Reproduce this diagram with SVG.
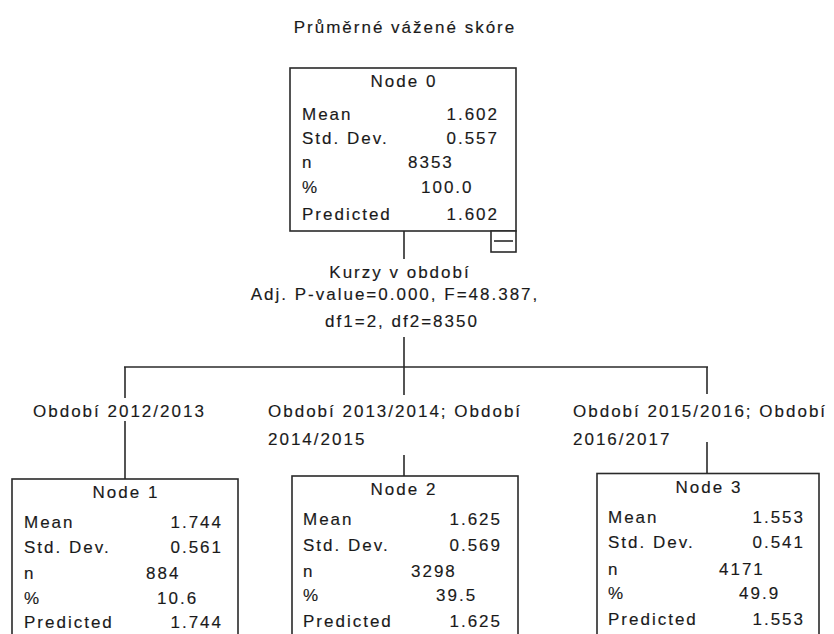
<svg xmlns="http://www.w3.org/2000/svg" width="834" height="634" viewBox="0 0 834 634">
<style>
text{font-family:"Liberation Sans",Arial,sans-serif;font-size:17px;fill:#1a1a1a;stroke:#1a1a1a;stroke-width:0.15;letter-spacing:2px}
.c{text-anchor:middle}
.r{text-anchor:end}
.box{fill:#fff;stroke:#2a2a2a;stroke-width:1.6}
.ln{stroke:#2a2a2a;stroke-width:1.6;fill:none}
</style>
<rect width="834" height="634" fill="#fff"/>
<text x="405" y="33" class="c">Průměrné vážené skóre</text>
<g id="connectors">
<line class="ln" x1="404" y1="231" x2="404" y2="259"/>
<line class="ln" x1="404" y1="337" x2="404" y2="367"/>
<line class="ln" x1="124" y1="367" x2="708" y2="367"/>
<line class="ln" x1="125" y1="367" x2="125" y2="398"/>
<line class="ln" x1="125" y1="421" x2="125" y2="479"/>
<line class="ln" x1="404" y1="367" x2="404" y2="395"/>
<line class="ln" x1="404" y1="455" x2="404" y2="476"/>
<line class="ln" x1="707" y1="367" x2="707" y2="394"/>
<line class="ln" x1="707" y1="442" x2="707" y2="473"/>
</g>
<g id="split-label">
<text x="400" y="278" class="c">Kurzy v období</text>
<text x="395" y="300" class="c">Adj. P-value=0.000, F=48.387,</text>
<text x="402" y="327" class="c">df1=2, df2=8350</text>
</g>
<g id="branch-labels">
<text x="33" y="417">Období 2012/2013</text>
<text x="268" y="417">Období 2013/2014; Období</text>
<text x="268" y="445">2014/2015</text>
<text x="573" y="417">Období 2015/2016; Období</text>
<text x="573" y="445">2016/2017</text>
</g>
<g id="node0">
<rect class="box" x="290" y="68" width="226" height="163"/>
<text x="404" y="87" class="c">Node 0</text>
<text x="302" y="120">Mean</text><text x="499" y="120" class="r">1.602</text>
<text x="302" y="143.5">Std. Dev.</text><text x="499" y="143.5" class="r">0.557</text>
<text x="302" y="168.3">n</text><text x="408" y="168.3">8353</text>
<text x="302" y="193">%</text><text x="421" y="193">100.0</text>
<text x="302" y="220">Predicted</text><text x="499" y="220" class="r">1.602</text>
<rect class="box" x="491" y="231" width="25" height="21"/>
<line class="ln" x1="494" y1="241" x2="513" y2="241"/>
</g>
<g id="node1">
<rect class="box" x="12" y="479" width="226" height="170"/>
<text x="126" y="498.3" class="c">Node 1</text>
<text x="24" y="528.3">Mean</text><text x="223" y="528.3" class="r">1.744</text>
<text x="24" y="552.7">Std. Dev.</text><text x="223" y="552.7" class="r">0.561</text>
<text x="24" y="579.3">n</text><text x="146" y="579.3">884</text>
<text x="24" y="604">%</text><text x="157" y="604">10.6</text>
<text x="24" y="628.3">Predicted</text><text x="223" y="628.3" class="r">1.744</text>
</g>
<g id="node2">
<rect class="box" x="292" y="476" width="226" height="170"/>
<text x="404" y="495" class="c">Node 2</text>
<text x="303" y="525">Mean</text><text x="502" y="525" class="r">1.625</text>
<text x="303" y="550.7">Std. Dev.</text><text x="502" y="550.7" class="r">0.569</text>
<text x="303" y="576.7">n</text><text x="411" y="576.7">3298</text>
<text x="303" y="601">%</text><text x="436" y="601">39.5</text>
<text x="303" y="626.7">Predicted</text><text x="502" y="626.7" class="r">1.625</text>
</g>
<g id="node3">
<rect class="box" x="597" y="473.5" width="222" height="170"/>
<text x="709" y="493.3" class="c">Node 3</text>
<text x="608" y="523.3">Mean</text><text x="805" y="523.3" class="r">1.553</text>
<text x="608" y="548.3">Std. Dev.</text><text x="805" y="548.3" class="r">0.541</text>
<text x="608" y="575">n</text><text x="719" y="575">4171</text>
<text x="608" y="599.3">%</text><text x="739" y="599.3">49.9</text>
<text x="608" y="625">Predicted</text><text x="805" y="625" class="r">1.553</text>
</g>
</svg>
